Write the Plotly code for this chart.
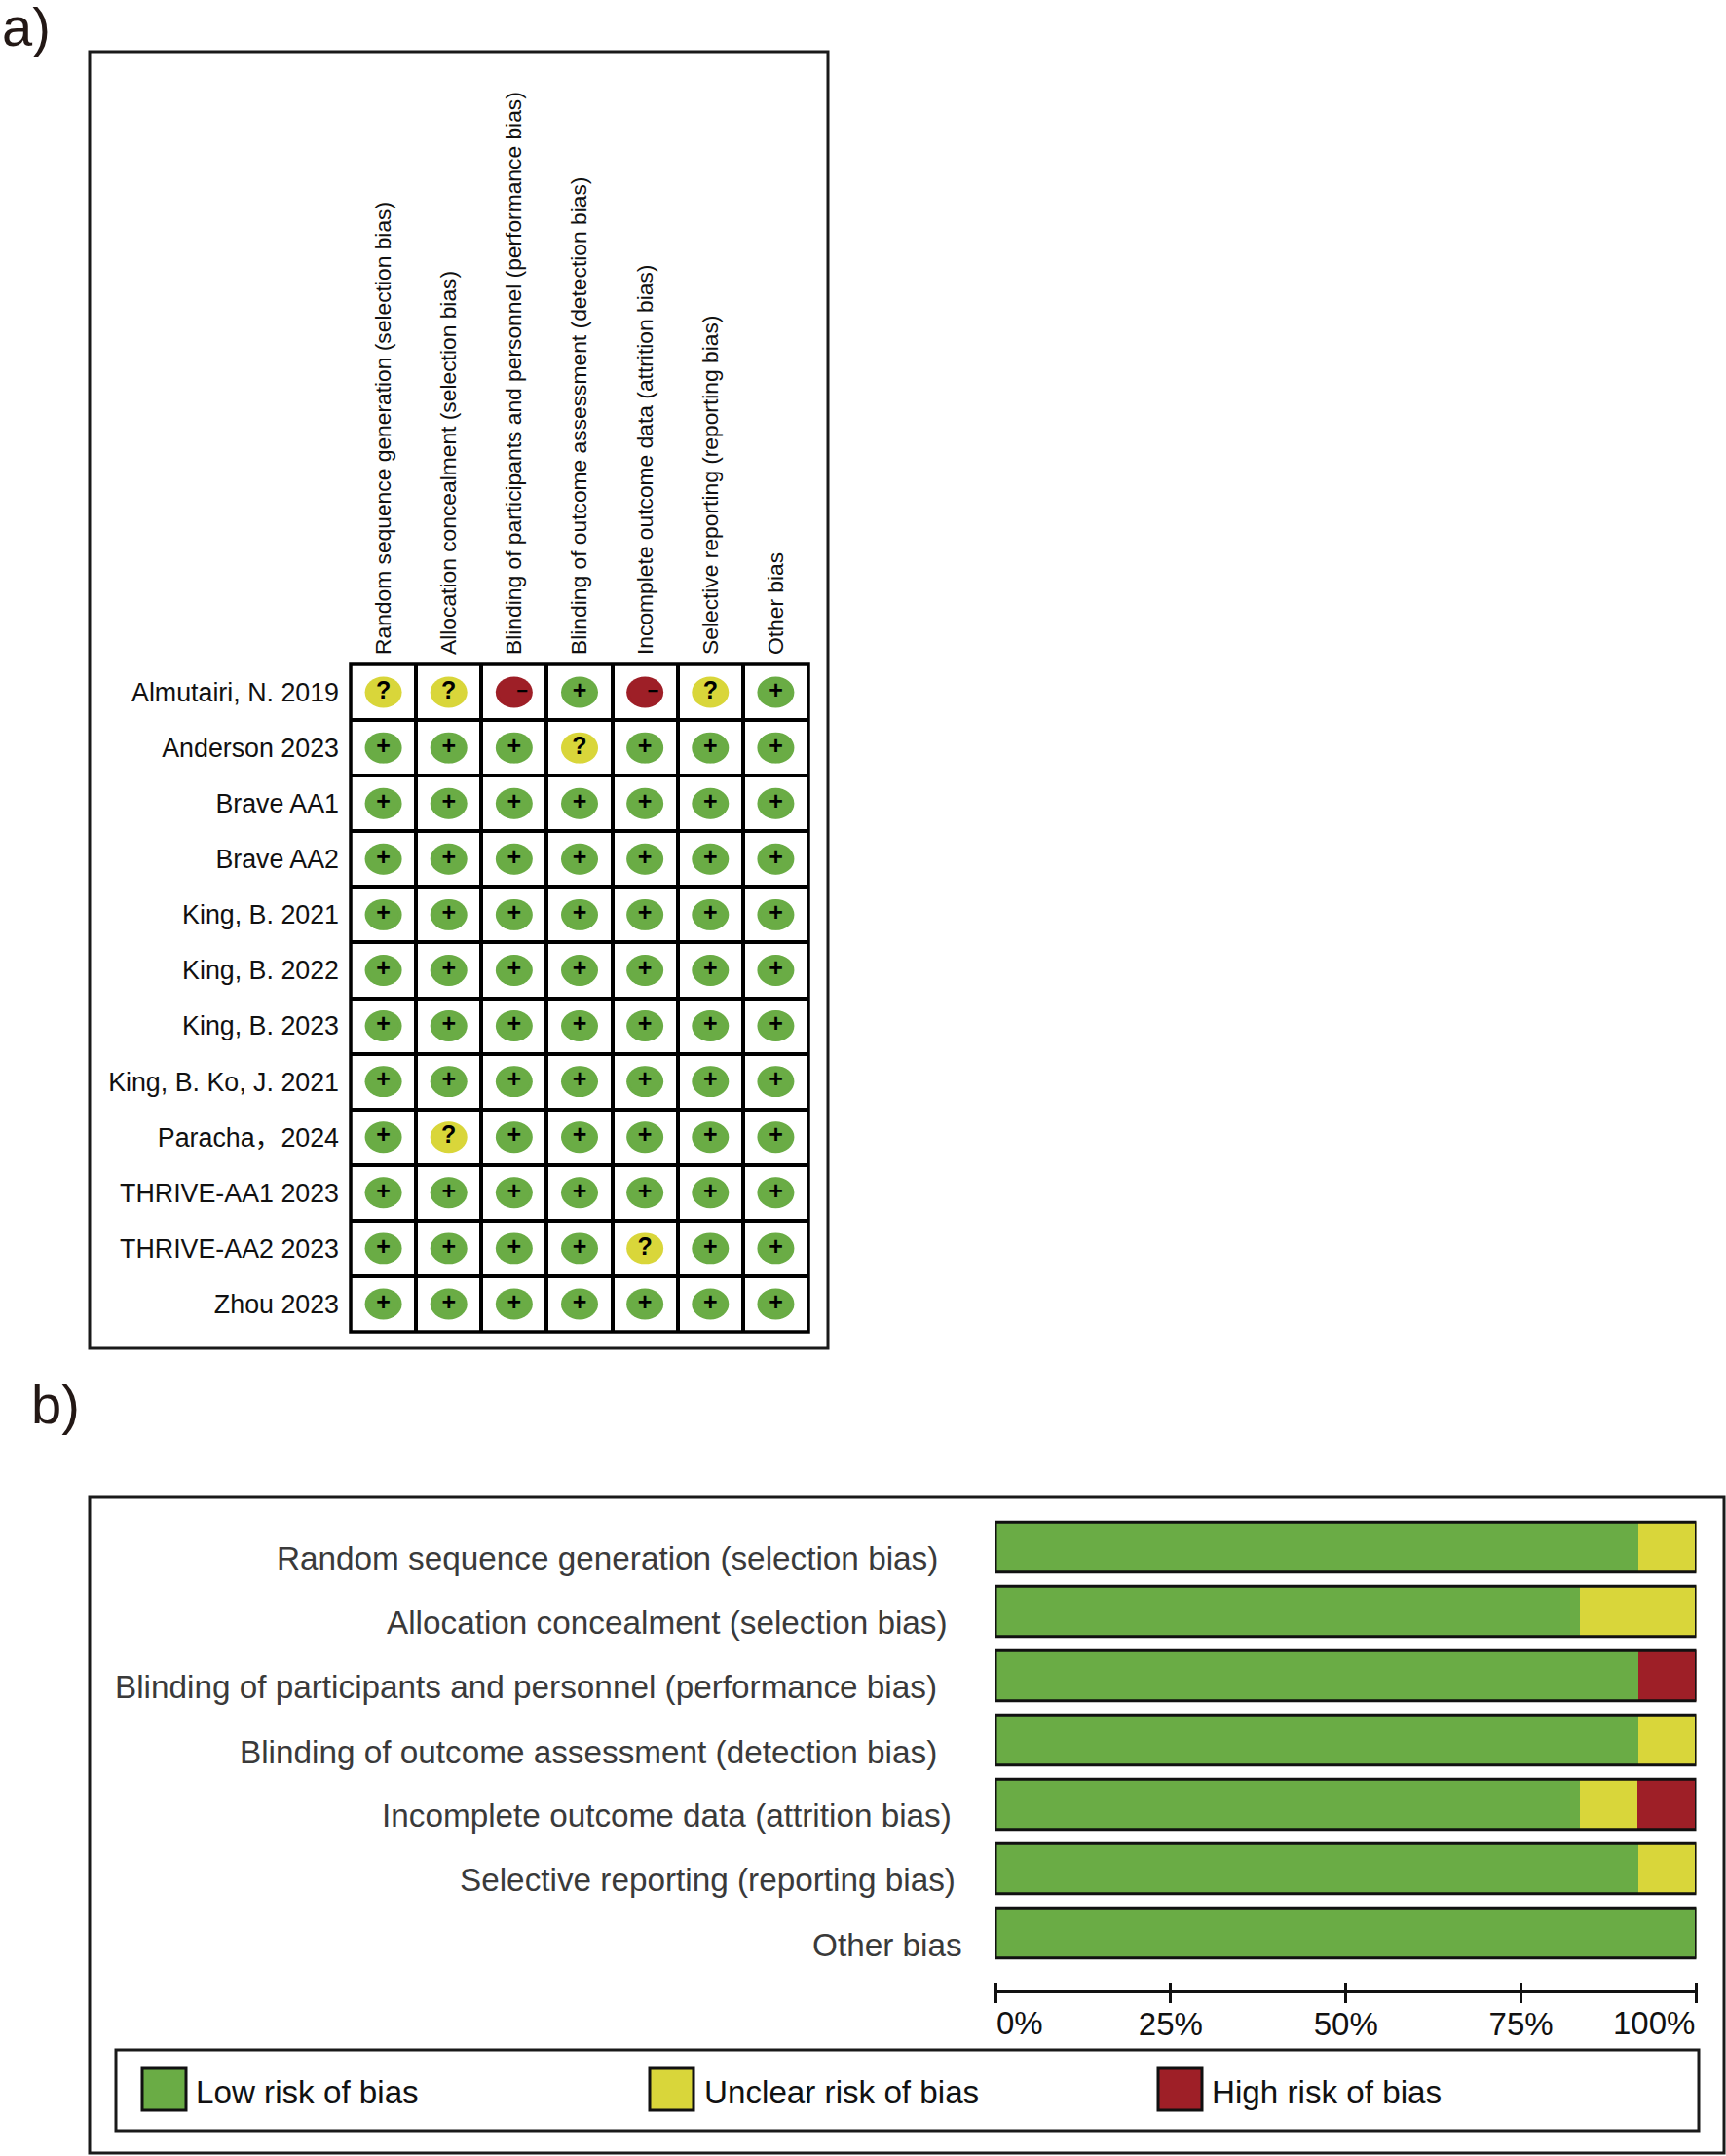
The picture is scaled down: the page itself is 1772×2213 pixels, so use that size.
import plotly.graph_objects as go

W, H = 1772, 2213
FONT = "Liberation Sans, Arial, Noto Sans CJK SC"

# ---------- data: panel a ----------
domains = ["Random sequence generation (selection bias)",
           "Allocation concealment (selection bias)",
           "Blinding of participants and personnel (performance bias)",
           "Blinding of outcome assessment (detection bias)",
           "Incomplete outcome data (attrition bias)",
           "Selective reporting (reporting bias)",
           "Other bias"]
studies = ["Almutairi, N. 2019", "Anderson 2023", "Brave AA1", "Brave AA2",
           "King, B. 2021", "King, B. 2022", "King, B. 2023", "King, B. Ko, J. 2021",
           "Paracha，2024", "THRIVE-AA1 2023", "THRIVE-AA2 2023", "Zhou 2023"]
j_almutairi = ["?", "?", "-", "+", "-", "?", "+"]
j_anderson  = ["+", "+", "+", "?", "+", "+", "+"]
j_brave1    = ["+", "+", "+", "+", "+", "+", "+"]
j_brave2    = ["+", "+", "+", "+", "+", "+", "+"]
j_king21    = ["+", "+", "+", "+", "+", "+", "+"]
j_king22    = ["+", "+", "+", "+", "+", "+", "+"]
j_king23    = ["+", "+", "+", "+", "+", "+", "+"]
j_kingko    = ["+", "+", "+", "+", "+", "+", "+"]
j_paracha   = ["+", "?", "+", "+", "+", "+", "+"]
j_thrive1   = ["+", "+", "+", "+", "+", "+", "+"]
j_thrive2   = ["+", "+", "+", "+", "?", "+", "+"]
j_zhou      = ["+", "+", "+", "+", "+", "+", "+"]
judgements = [j_almutairi, j_anderson, j_brave1, j_brave2, j_king21, j_king22,
              j_king23, j_kingko, j_paracha, j_thrive1, j_thrive2, j_zhou]

# ---------- data: panel b ----------
low_risk     = [91.67, 83.33, 91.67, 91.67, 83.33, 91.67, 100]
unclear_risk = [8.33, 16.67, 0, 8.33, 8.33, 8.33, 0]
high_risk    = [0, 0, 8.33, 0, 8.33, 0, 0]
series_names = ["Low risk of bias", "Unclear risk of bias", "High risk of bias"]
pct_ticks = [0, 25, 50, 75, 100]

# ---------- styles ----------
GREEN, YELLOW, RED = "#6AAC45", "#D9D63A", "#9E1F27"
INK = "#111111"
GREY = "#3A3A3A"


def px(v):
    return v / W


def py(v):
    return 1 - v / H


fig = go.Figure()
shapes, annots = [], []

# outer border of the judgement grid
shapes.append(dict(type="rect", xref="x domain", yref="y domain", x0=0, x1=1, y0=0, y1=1,
                   line=dict(color="#000000", width=3.5), layer="above"))

# ---------- panel a marks ----------
styles = {"+": (GREEN, "+", 25, "Liberation Sans"),
          "?": (YELLOW, "?", 25, "Liberation Sans"),
          "-": (RED, "\u00a0\u00a0\u00a0\u2212", 20, "Liberation Sans")}
for key, (col, glyph, fs, fam) in styles.items():
    xs, ys = [], []
    for r, row in enumerate(judgements):
        for c, val in enumerate(row):
            if val == key:
                xs.append(domains[c])
                ys.append(studies[r])
                shapes.append(dict(type="circle", xref="x", yref="y", layer="below",
                                   x0=c - 0.283, x1=c + 0.283, y0=r - 0.28, y1=r + 0.28,
                                   fillcolor=col, line=dict(width=0)))
    fig.add_trace(go.Scatter(x=xs, y=ys, mode="markers+text", xaxis="x", yaxis="y",
                             marker=dict(size=31, color=col, line=dict(width=0)),
                             text=[glyph] * len(xs), textposition="middle center",
                             textfont=dict(size=fs, color="#000000", family=fam, weight="bold"),
                             cliponaxis=False, showlegend=False, hoverinfo="x+y"))

# ---------- panel b bars ----------
for name, vals, col in zip(series_names, [low_risk, unclear_risk, high_risk], [GREEN, YELLOW, RED]):
    fig.add_trace(go.Bar(y=domains, x=vals, orientation="h", name=name, xaxis="x2", yaxis="y2",
                         marker=dict(color=col, line=dict(width=0)), showlegend=False))
for i in range(len(domains)):
    shapes.append(dict(type="rect", xref="x2", yref="y2", x0=0, x1=100, y0=i - 0.39, y1=i + 0.39,
                       line=dict(color="#111111", width=3), layer="above"))

# axis line through the ticks
shapes.append(dict(type="line", xref="x2", yref="paper", x0=0, x1=100,
                   y0=py(2044.5), y1=py(2044.5), line=dict(color="#111111", width=3)))

# panel b category labels (hand-placed in the original, right edges differ)
label_right = [965, 975, 964, 964, 979, 983, 990]
label_y = [1599, 1665, 1731, 1798, 1863, 1929, 1996]
for t, xr, yc in zip(domains, label_right, label_y):
    annots.append(dict(text=t, xref="paper", yref="paper", x=px(xr), y=py(yc), xanchor="right",
                       yanchor="middle", showarrow=False, font=dict(size=33.3, color=GREY, family=FONT)))

# end tick labels sit inside the axis ends
annots.append(dict(text="0%", xref="x2", yref="paper", x=0, y=py(2076), xanchor="left", yanchor="middle",
                   showarrow=False, xshift=-1, font=dict(size=33, color=INK, family=FONT)))
annots.append(dict(text="100%", xref="x2", yref="paper", x=100, y=py(2076), xanchor="right", yanchor="middle",
                   showarrow=False, font=dict(size=33, color=INK, family=FONT)))

# frames
for x0, y0, x1, y1 in [(92, 53, 850, 1384), (92, 1537, 1770, 2210), (119, 2104, 1744, 2187)]:
    shapes.append(dict(type="rect", xref="paper", yref="paper", x0=px(x0), x1=px(x1), y0=py(y0), y1=py(y1),
                       line=dict(color="#1A1A1A", width=3), layer="below"))

# legend
legend_swatch_x = [146, 667, 1189]
legend_text_x = [199, 721, 1242]
for name, col, sx, tx in zip(series_names, [GREEN, YELLOW, RED], legend_swatch_x, legend_text_x):
    shapes.append(dict(type="rect", xref="paper", yref="paper", x0=px(sx), x1=px(sx + 45),
                       y0=py(2123), y1=py(2166), fillcolor=col, line=dict(color="#111111", width=3)))
    annots.append(dict(text=name, xref="paper", yref="paper", x=px(tx), y=py(2147), xanchor="left",
                       yanchor="middle", showarrow=False, font=dict(size=33.2, color=INK, family=FONT)))

# panel letters
annots.append(dict(text="a)", xref="paper", yref="paper", x=px(0), y=py(27), xanchor="left", yanchor="middle",
                   showarrow=False, font=dict(size=56, color="#231815", family=FONT)))
annots.append(dict(text="b)", xref="paper", yref="paper", x=px(30), y=py(1441), xanchor="left", yanchor="middle",
                   showarrow=False, font=dict(size=56, color="#231815", family=FONT)))

fig.update_layout(
    width=W, height=H, margin=dict(l=0, r=0, t=0, b=0), autosize=False,
    paper_bgcolor="white", plot_bgcolor="white", barmode="stack", bargap=0.22,
    showlegend=False, shapes=shapes, annotations=annots,
    font=dict(family=FONT, color=INK),
    xaxis=dict(domain=[px(360), px(830)], type="category", categoryorder="array", categoryarray=domains,
               range=[-0.5, 6.5], side="top", anchor="y", tickangle=-90, tickson="boundaries", ticks="",
               showgrid=True, gridcolor="#000000", gridwidth=3.5, showline=False,
               tickfont=dict(size=22.8, color=INK, family=FONT),
               ticklabelstandoff=9, zeroline=False),
    yaxis=dict(domain=[py(1367), py(682)], type="category", categoryorder="array", categoryarray=studies,
               range=[11.5, -0.5], anchor="x", tickson="boundaries", ticks="", showgrid=True,
               gridcolor="#000000", gridwidth=3.5, showline=False,
               tickfont=dict(size=26.8, color=INK, family=FONT),
               ticklabelstandoff=11, zeroline=False),
    xaxis2=dict(domain=[px(1022), px(1741.5)], range=[0, 100], anchor="free", position=py(2034), showline=False,
                showgrid=False, zeroline=False, tickvals=pct_ticks, ticktext=["", "25%", "50%", "75%", ""],
                ticks="outside", ticklen=21, tickwidth=2.5, tickcolor="#111111", ticklabelstandoff=-7,
                tickfont=dict(size=33, color=INK, family=FONT)),
    yaxis2=dict(domain=[py(2017), py(1555)], type="category", categoryorder="array", categoryarray=domains,
                range=[6.5, -0.5], anchor="x2", showticklabels=False, showgrid=False, zeroline=False,
                ticks="", showline=False),
)
fig.write_html("out.html", config={"displayModeBar": False},
               post_script="document.body.style.margin='0';document.body.style.overflow='hidden';")
